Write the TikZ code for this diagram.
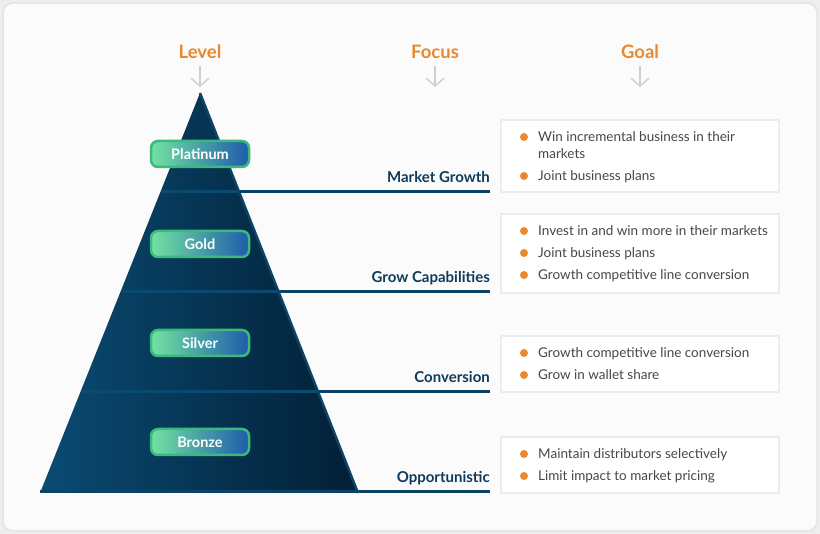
\documentclass[tikz,border=0pt]{standalone}
\usepackage{fontspec}
\setmainfont{Lato}
\usetikzlibrary{arrows.meta}
\definecolor{hdrOrange}{HTML}{E8892E}
\definecolor{bgOut}{HTML}{EEEEEE}
\definecolor{bgIn}{HTML}{FBFBFB}
\definecolor{frameC}{HTML}{E4E4E4}
\definecolor{arrowC}{HTML}{CFCFCF}
\definecolor{pyrL}{HTML}{0A4B73}
\definecolor{pyrR}{HTML}{021F35}
\definecolor{sepIn}{HTML}{0B4A70}
\definecolor{navy}{HTML}{0B4467}
\definecolor{focusC}{HTML}{0D3B5C}
\definecolor{badgeL}{HTML}{72E3A2}
\definecolor{badgeR}{HTML}{1E5CAB}
\definecolor{badgeB}{HTML}{3DB97D}
\definecolor{boxB}{HTML}{ECECEC}
\definecolor{txtC}{HTML}{474747}
\tikzset{
  hdr/.style={text=hdrOrange, font=\bfseries\fontsize{18.5}{22}\selectfont, inner sep=0pt},
  downarrow/.style={draw=arrowC, line width=1.4pt, -{Straight Barb[length=8pt,width=18pt]}},
  badge/.style={draw=badgeB, line width=2.5pt, rounded corners=7pt, left color=badgeL, right color=badgeR,
    minimum width=98pt, minimum height=26pt, text=white, font=\bfseries\fontsize{14.5}{17}\selectfont, inner sep=0pt},
  focuslbl/.style={text=focusC, font=\bfseries\fontsize{15}{18}\selectfont, inner sep=0pt, anchor=base east},
  sepline/.style={draw=navy, line width=3pt},
  goalbox/.style={draw=boxB, line width=2pt, fill=white, minimum width=278pt, anchor=north west, inner sep=0pt},
  goaltxt/.style={text=txtC, font=\fontsize{13.5}{17}\selectfont, inner sep=0pt, anchor=base west},
  dotC/.style={fill=hdrOrange}
}
\begin{document}
\begin{tikzpicture}[x=1pt,y=-1pt]
\useasboundingbox (0,0) rectangle (820,534);
\fill[bgOut] (0,0) rectangle (820,534);
\draw[fill=bgIn, draw=frameC, line width=1.5pt, rounded corners=10pt] (3,3) rectangle (817,531);

% headers
\node[hdr] (lv) at (200,52) {Level};
\node[hdr] (fc) at (435,52) {Focus};
\node[hdr] (gl) at (640,52) {Goal};
\coordinate (lvA) at (200,66); \coordinate (lvB) at (200,87);
\coordinate (fcA) at (435,66); \coordinate (fcB) at (435,87);
\coordinate (glA) at (640,66); \coordinate (glB) at (640,87);
\draw[downarrow] (lvA) -- (lvB);
\draw[downarrow] (fcA) -- (fcB);
\draw[downarrow] (glA) -- (glB);

% pyramid
\coordinate (apex) at (200,93);
\coordinate (bl) at (40,493);
\coordinate (br) at (358,493);
\shade[left color=pyrL, right color=pyrR] (apex) -- (br) -- (bl) -- cycle;
\foreach \yy/\nm in {192/a,292/b,392/c}{
  \pgfmathsetmacro{\hh}{(\yy-93)/400*159}
  \coordinate (L\nm) at ({200-\hh},\yy);
  \coordinate (R\nm) at ({200+\hh},\yy);
  \coordinate (E\nm) at (490,\yy);
  \draw[draw=sepIn, line width=3pt] (L\nm) -- (R\nm);
  \draw[sepline] (R\nm) -- (E\nm);
}
\coordinate (Ed) at (490,492);
\coordinate (Bd) at (40,492);
\draw[draw=navy, line width=2.5pt] (apex) -- (br);
\draw[sepline] (Bd) -- (Ed);

% badges
\node[badge] (plat) at (200,154) {Platinum};
\node[badge] (gold) at (200,244) {Gold};
\node[badge] (silv) at (200,343) {Silver};
\node[badge] (brnz) at (200,442) {Bronze};

% focus labels
\node[focuslbl] (f1) at (490,182.5) {Market Growth};
\node[focuslbl] (f2) at (490,282.5) {Grow Capabilities};
\node[focuslbl] (f3) at (490,382.5) {Conversion};
\node[focuslbl] (f4) at (490,482.5) {Opportunistic};

% goal boxes
\node[goalbox, minimum height=72pt] (g1) at (500,119) {};
\node[goalbox, minimum height=79pt] (g2) at (500,213) {};
\node[goalbox, minimum height=56pt] (g3) at (500,335) {};
\node[goalbox, minimum height=56pt] (g4) at (500,436) {};

% bullets
\foreach \yy/\txt in {
  137/{Win incremental business in their},
  176/{Joint business plans},
  231/{Invest in and win more in their markets},
  253/{Joint business plans},
  275/{Growth competitive line conversion},
  353/{Growth competitive line conversion},
  375/{Grow in wallet share},
  454/{Maintain distributors selectively},
  476/{Limit impact to market pricing}}{
  \fill[dotC] (524,\yy) circle (4pt);
  \node[goaltxt] at (538,\yy+4.8) {\txt};
}
\node[goaltxt] (wrap1) at (538,158.8) {markets};
\end{tikzpicture}
\end{document}
